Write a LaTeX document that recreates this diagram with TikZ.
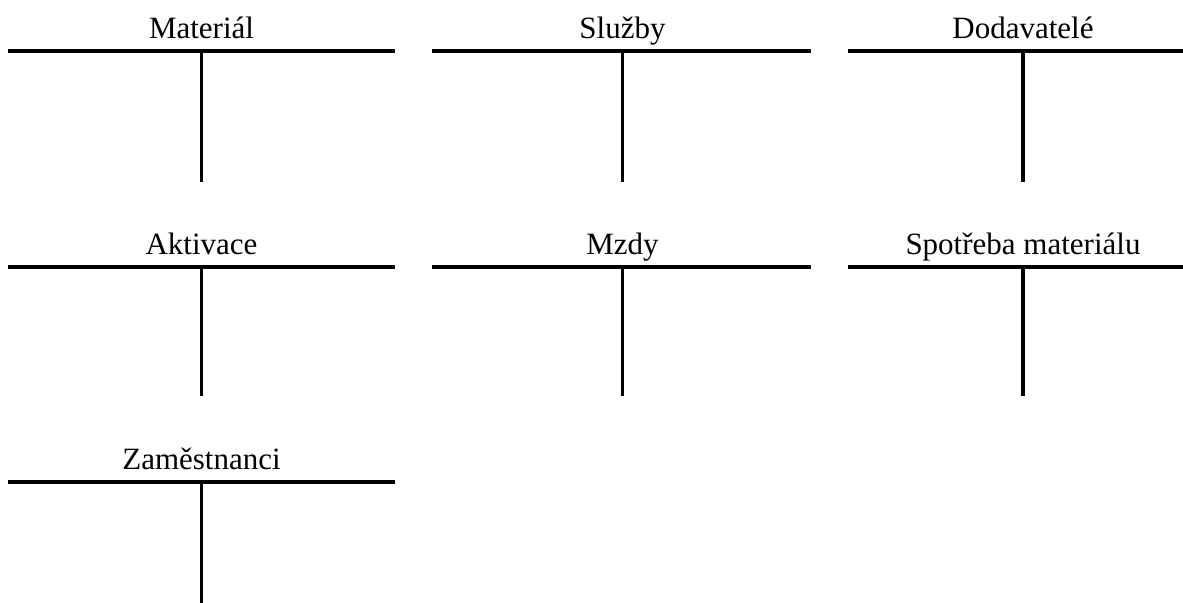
\documentclass[tikz,border=0pt]{standalone}
\usepackage{fontspec}
\setmainfont{Liberation Serif}
\usepackage{tikz}

\tikzset{
    ucet/.style={line width=1.85pt},
    nazev/.style={anchor=base, inner sep=0pt, font=\fontsize{15.5}{18}\selectfont}
}

\begin{document}
\begin{tikzpicture}[x=0.5pt, y=-0.5pt]

    \useasboundingbox (0, 0) rectangle (1183, 603);

    % first row
    \draw[ucet] (8, 50.7) -- (395, 50.7);
    \draw[ucet] (201.5, 50.7) -- (201.5, 181.7);
    \node[nazev] (mat) at (201.5, 39) {Materiál};

    \draw[ucet] (432, 50.7) -- (811, 50.7);
    \draw[ucet] (622.5, 50.7) -- (622.5, 181.7);
    \node[nazev] (sluz) at (622.5, 39) {Služby};

    \draw[ucet] (848, 50.7) -- (1183, 50.7);
    \draw[ucet] (1023, 50.7) -- (1023, 181.7);
    \node[nazev] (dod) at (1023, 39) {Dodavatelé};

    % second row
    \draw[ucet] (8, 266.7) -- (395, 266.7);
    \draw[ucet] (201.5, 266.7) -- (201.5, 395.7);
    \node[nazev] (akt) at (201.5, 255) {Aktivace};

    \draw[ucet] (432, 266.7) -- (811, 266.7);
    \draw[ucet] (622.5, 266.7) -- (622.5, 395.7);
    \node[nazev] (mzdy) at (622.5, 255) {Mzdy};

    \draw[ucet] (848, 266.7) -- (1183, 266.7);
    \draw[ucet] (1023, 266.7) -- (1023, 395.7);
    \node[nazev] (spot) at (1023, 255) {Spotřeba materiálu};

    % third row
    \draw[ucet] (8, 481.7) -- (395, 481.7);
    \draw[ucet] (201.5, 481.7) -- (201.5, 603);
    \node[nazev] (zam) at (201.5, 470) {Zaměstnanci};

\end{tikzpicture}
\end{document}
